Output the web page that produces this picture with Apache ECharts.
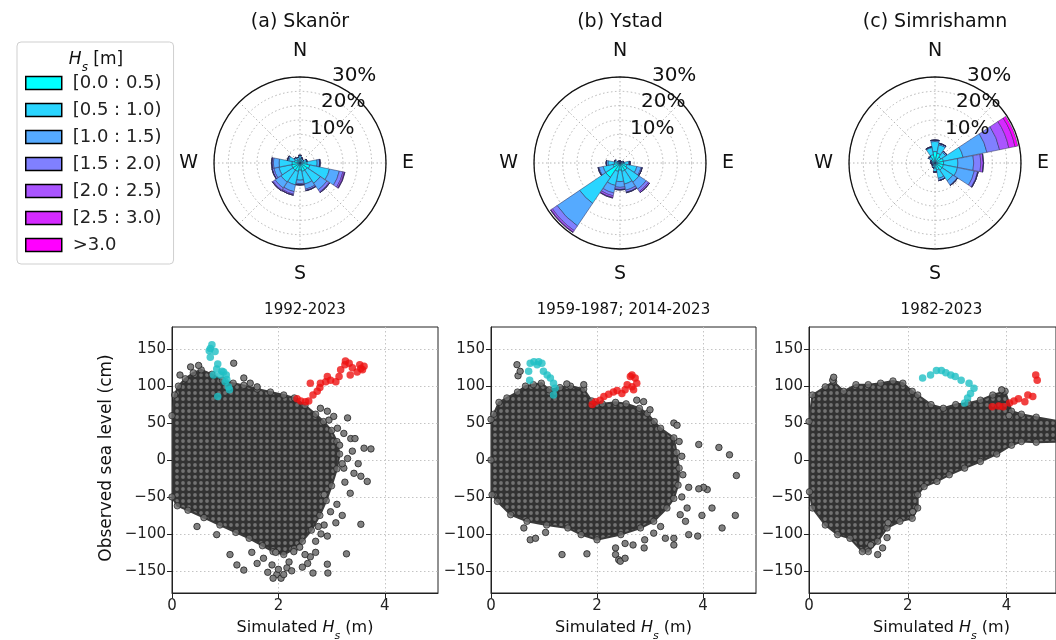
<!DOCTYPE html>
<html><head><meta charset="utf-8">
<script src="https://cdn.jsdelivr.net/npm/echarts@6/dist/echarts.min.js"></script>
<style>html,body{margin:0;padding:0;background:#fff}#c{width:1056px;height:640px}</style>
</head><body><div id="c"></div><script>
// ---------- DATA ----------
const directions = ['N','NNE','NE','ENE','E','ESE','SE','SSE','S','SSW','SW','WSW','W','WNW','NW','NNW'];
const hsBins = ['[0.0 : 0.5)','[0.5 : 1.0)','[1.0 : 1.5)','[1.5 : 2.0)','[2.0 : 2.5)','[2.5 : 3.0)','>3.0'];
const roseRingLabels = [10, 20, 30];
const stationTitles = ['(a) Skanör', '(b) Ystad', '(c) Simrishamn'];
const periodTitles = ['1992-2023', '1959-1987; 2014-2023', '1982-2023'];
// wave-rose frequencies (%) : one row per Hs bin, 16 directions N..NNW
const skanorRose = [
  [1.5,1.2,1.0,1.3,2.5,3.5,3.0,3.0,2.5,3.0,3.0,3.0,2.8,2.0,1.3,1.2],
  [1.0,0.6,0.5,1.0,3.5,7.0,5.5,4.5,3.5,4.8,5.0,4.5,4.5,2.0,1.0,0.8],
  [0.2,0.1,0,0.2,0.8,3.5,2.8,1.8,1.2,2.4,2.5,1.8,2.0,0.5,0.2,0.1],
  [0,0,0,0,0.2,1.3,0.9,0.5,0.4,0.9,0.9,0.6,0.5,0,0,0],
  [0,0,0,0,0,0.5,0.3,0.1,0.1,0.4,0.3,0.1,0.1,0,0,0],
  [0,0,0,0,0,0.2,0,0,0,0,0,0,0,0,0,0],
  [0,0,0,0,0,0,0,0,0,0,0,0,0,0,0,0]
];
const ystadRose = [
  [0.6,0.5,0.5,0.8,1.5,2.5,3.0,3.0,2.5,3.0,6.0,2.5,2.0,1.0,0.6,0.5],
  [0.2,0.2,0.2,0.4,1.5,3.5,5.0,4.5,4.0,5.0,11.0,3.5,2.2,0.8,0.3,0.2],
  [0,0,0,0.1,0.5,1.5,3.0,2.2,2.0,2.7,9.5,1.5,0.6,0.2,0,0],
  [0,0,0,0,0,0.4,1.0,0.7,0.7,1.0,2.0,0.3,0,0,0,0],
  [0,0,0,0,0,0,0.5,0.2,0.2,0.6,0.6,0,0,0,0,0],
  [0,0,0,0,0,0,0,0,0,0.2,0.2,0,0,0,0,0],
  [0,0,0,0,0,0,0,0,0,0,0,0,0,0,0,0]
];
const simrishamnRose = [
  [4.0,3.5,2.5,3.0,3.0,3.0,3.0,2.5,1.8,1.2,0.9,0.8,0.9,1.0,1.6,3.0],
  [3.5,3.0,2.0,7.0,5.0,5.0,4.5,3.0,1.2,0.6,0.4,0.4,0.5,0.5,1.0,2.5],
  [0.5,0.5,0.5,8.5,5.5,6.0,1.8,0.8,0.2,0,0,0,0,0.1,0.2,0.3],
  [0,0,0,4.5,2.5,1.2,0.2,0,0,0,0,0,0,0,0,0],
  [0,0,0,3.3,0.9,0.2,0,0,0,0,0,0,0,0,0,0],
  [0,0,0,2.2,0,0,0,0,0,0,0,0,0,0,0,0],
  [0,0,0,1.0,0,0,0,0,0,0,0,0,0,0,0,0]
];
const xTicks = [0, 2, 4];
const yTicks = [-150, -100, -50, 0, 50, 100, 150];
// dense core of the scatter clouds (outline, [Hs m, sea level cm])
const skanorCloud = [[0,60],[0.05,88],[0.12,100],[0.25,110],[0.4,118],[0.55,122],[0.75,116],[0.95,108],[1.15,104],[1.35,101],[1.6,96],[1.85,92],[2.1,88],[2.3,84],[2.5,74],[2.7,62],[2.85,52],[3.0,40],[3.1,25],[3.15,8],[3.1,-12],[3.0,-35],[2.9,-55],[2.78,-75],[2.62,-95],[2.45,-110],[2.3,-120],[2.1,-128],[1.9,-124],[1.7,-116],[1.45,-106],[1.2,-98],[0.9,-88],[0.6,-78],[0.3,-68],[0.1,-62],[0,-50]];
const ystadCloud = [[0,55],[0.05,62],[0.15,78],[0.3,84],[0.5,92],[0.65,100],[0.8,102],[0.95,104],[1.1,95],[1.3,98],[1.5,100],[1.75,96],[1.9,80],[2.1,76],[2.35,78],[2.55,76],[2.8,70],[2.95,63],[3.08,52],[3.2,43],[3.45,30],[3.5,10],[3.55,-11],[3.53,-34],[3.45,-52],[3.32,-65],[3.07,-83],[2.82,-92],[2.45,-101],[2.0,-108],[1.7,-101],[1.45,-92],[1.05,-88],[0.68,-83],[0.37,-74],[0.12,-56],[0.02,-47],[0,0]];
const simrishamnCloud = [[0,52],[0.07,88],[0.33,99],[0.5,106],[0.7,93],[0.95,102],[1.2,102],[1.45,104],[1.7,107],[1.9,104],[2.09,93],[2.2,88],[2.47,75],[2.72,70],[2.97,75],[3.22,77],[3.47,81],[3.72,88],[3.97,93],[4.1,66],[4.3,62],[4.6,58],[5.1,52],[5.1,25],[4.6,24],[4.3,25],[4.1,20],[3.8,8],[3.47,-2],[3.15,-11],[2.84,-20],[2.59,-29],[2.33,-36],[2.2,-47],[2.2,-65],[2.09,-79],[1.84,-83],[1.58,-92],[1.39,-110],[1.2,-124],[1.08,-124],[0.83,-106],[0.58,-101],[0.33,-88],[0.07,-65],[0.01,-43]];
// scattered points outside the dense core
const skanorPoints = [[3.30,57],[3.23,36],[3.36,29],[3.44,29],[3.61,16],[3.74,15],[3.39,12],[3.67,-29],[3.55,-22],[3.42,-18],[3.23,-11],[3.55,-87],[3.28,-127],[2.92,-141],[2.92,-103],[3.08,-85],[2.86,-88],[2.65,-153],[2.93,-153],[2.98,-70],[2.86,-47],[2.60,-131],[2.29,-124],[1.97,-155],[1.88,-142],[2.16,-146],[1.72,-133],[1.35,-149],[1.22,-142],[1.09,-128],[0.84,-101],[0.47,-90],[2.79,70],[2.92,66],[2.95,54],[3.11,43],[3.04,59],[1.16,131],[1.35,111],[1.47,104],[1.60,99],[0.15,115],[0.35,126],[0.5,128],[2.0,-148],[2.05,-160],[1.8,-152],[2.2,-138],[2.4,-118],[2.5,-128],[1.6,-140],[1.5,-125],[1.95,-125],[2.7,-110],[2.55,-140],[2.1,-155],[1.9,-160],[2.25,-150],[2.45,-145],[3.2,-5],[3.3,2],[3.5,-5],[3.15,20],[3.25,-30],[3.35,-45],[3.1,-60],[3.2,-75],[2.8,-100],[2.7,-125],[2.75,-90]];
const ystadPoints = [[3.92,21],[4.30,17],[4.50,7],[4.63,-21],[4.61,-75],[4.36,-92],[3.98,-75],[4.08,-40],[4.01,-37],[3.92,-39],[4.17,-65],[3.73,-37],[3.70,-65],[3.73,-101],[3.90,-103],[3.45,-106],[3.45,-115],[3.29,-106],[3.57,-74],[3.67,-83],[3.45,50],[3.51,47],[3.0,68],[2.88,79],[2.75,81],[2.89,-119],[2.68,-115],[2.53,-113],[2.35,-119],[2.35,-128],[2.41,-135],[2.44,-137],[2.53,-133],[1.81,-127],[1.34,-128],[0.74,-108],[0.84,-106],[1.03,-98],[0.62,-92],[3.07,-99],[1.75,102],[1.43,103],[0.51,114],[0.49,129],[0.55,120],[2.9,-108],[3.2,-90],[3.6,-50],[3.62,-20],[3.6,5],[3.55,25]];
const simrishamnPoints = [[1.39,-128],[1.49,-119],[1.58,-105],[1.25,-115],[0.48,108],[0.5,112],[1.6,-85],[2.1,-70],[4.05,60],[3.9,95]];
// storm events
const skanorJan2017 = [[0.75,156],[0.72,151],[0.70,148],[0.81,147],[0.72,139],[0.86,130],[0.84,123],[0.94,120],[0.78,115],[0.91,115],[0.97,119],[1.02,115],[1.03,109],[1.00,106],[1.06,99],[1.08,95],[0.86,86]];
const skanorBabet = [[2.35,83],[2.42,80],[2.51,79],[2.57,80],[2.60,104],[2.65,88],[2.73,93],[2.78,98],[2.79,104],[2.89,106],[2.92,113],[2.98,108],[3.08,106],[3.14,113],[3.17,122],[3.25,129],[3.26,134],[3.33,131],[3.39,125],[3.35,115],[3.48,119],[3.55,124],[3.53,129],[3.61,127],[3.58,122]];
const ystadJan2017 = [[0.73,108],[0.71,120],[0.74,131],[0.81,133],[0.87,129],[0.90,133],[0.96,131],[0.99,120],[1.06,115],[1.12,111],[1.18,104],[1.21,97],[1.18,88]];
const ystadBabet = [[1.91,75],[1.97,79],[2.06,81],[2.13,86],[2.22,89],[2.31,92],[2.38,94],[2.47,90],[2.53,95],[2.57,102],[2.66,99],[2.63,113],[2.66,115],[2.72,111],[2.75,104],[2.69,95]];
const simrishamnJan2017 = [[2.30,111],[2.46,115],[2.58,121],[2.68,121],[2.77,118],[2.87,115],[2.96,113],[3.08,108],[3.24,104],[3.34,97],[3.27,90],[3.21,84],[3.15,77]];
const simrishamnBabet = [[3.71,72],[3.84,73],[3.93,72],[4.06,77],[4.15,80],[4.24,83],[4.37,79],[4.43,88],[4.53,86],[4.59,115],[4.62,108]];
// event annotations [x, y, text]
const annotations = [
  [[1.74,164,'Jan-2017'],[3.99,96,'Babet']],
  [[1.94,146,'Jan-2017'],[3.51,113,'Babet']],
  [[2.54,142,'Jan-2017'],[4.20,133,'Babet']]
];

// ---------- LAYOUT / STYLE ----------
const FONT = 'DejaVu Sans';
const binColors = ['#00ffff','#2ad5ff','#55aaff','#8080ff','#aa55ff','#d52aff','#ff00ff'];
const roseCenters = [[300,163],[620,163],[935,163]];
const roseR = 86;
const grids = [{left:172,top:327,width:266,height:266},{left:491,top:327,width:265,height:266},{left:809,top:327,width:265,height:266}];
const CYAN = '#1fbfc4', RED = '#ee1111';
const roses = [skanorRose, ystadRose, simrishamnRose];
const clouds = [skanorCloud, ystadCloud, simrishamnCloud];
const pointsets = [skanorPoints, ystadPoints, simrishamnPoints];
const jans = [skanorJan2017, ystadJan2017, simrishamnJan2017];
const babets = [skanorBabet, ystadBabet, simrishamnBabet];

// dot texture for dense cloud
const tile = document.createElement('canvas'); tile.width = 6; tile.height = 6;
(function(){const g = tile.getContext('2d'); g.fillStyle = '#323232'; g.fillRect(0,0,6,6);
  g.beginPath(); g.arc(3,3,1.9,0,Math.PI*2); g.fillStyle = '#727272'; g.fill();})();
const cloudFill = {type:'pattern', image: tile, repeat: 'repeat'};

const polar = [], angleAxis = [], radiusAxis = [], series = [], graphic = [];
roseCenters.forEach((c, i) => {
  polar.push({center: c, radius: roseR});
  angleAxis.push({polarIndex:i, type:'category', data:directions, startAngle:101.25, clockwise:true, boundaryGap:true,
    axisLine:{show:false}, axisTick:{show:false}, axisLabel:{show:false}, splitLine:{show:false}, z:1});
  radiusAxis.push({polarIndex:i, type:'value', min:0, max:30, show:false, splitLine:{show:false}});
});
const compass = {0:'N',90:'E',180:'S',270:'W'};
roseCenters.forEach((c, i) => {
  polar.push({center: c, radius: roseR});
  angleAxis.push({polarIndex:i+3, type:'value', min:0, max:360, interval:45, startAngle:90, clockwise:true,
    axisLine:{show:true, lineStyle:{color:'#111', width:1.3}}, axisTick:{show:false},
    axisLabel:{show:true, margin:16, fontSize:19, fontFamily:FONT, color:'#111', formatter: v => compass[v] || ''},
    splitLine:{show:true, lineStyle:{color:'#b5b5b5', type:[1.5,2.5], width:1}}, z:0});
  radiusAxis.push({polarIndex:i+3, type:'value', min:0, max:30, interval:5,
    axisLine:{show:false}, axisTick:{show:false}, axisLabel:{show:false},
    splitLine:{show:true, lineStyle:{color:'#b5b5b5', type:[1.5,2.5], width:1}}, z:0});
});
roses.forEach((rose, i) => {
  rose.forEach((vals, b) => {
    series.push({type:'bar', name:hsBins[b], coordinateSystem:'polar', polarIndex:i, stack:'rose'+i,
      data: vals, barCategoryGap:'3%', itemStyle:{color:binColors[b], borderColor:'#2b2b55', borderWidth:0.5},
      emphasis:{disabled:true}, z:2});
  });
  const [cx, cy] = roseCenters[i];
  const ang = 22.5 * Math.PI / 180;
  roseRingLabels.forEach(v => {
    const r = v / 30 * roseR;
    graphic.push({type:'text', x: cx + r*Math.sin(ang) - 1, y: cy - r*Math.cos(ang) + 2, z:10,
      style:{text: v + '%', font: '20px ' + FONT, fill:'#111', align:'left', verticalAlign:'bottom'}});
  });
  graphic.push({type:'text', x: cx, y: 22, style:{text: stationTitles[i], font:'19px ' + FONT, fill:'#111', align:'center', verticalAlign:'middle'}});
});

const xAxis = [], yAxis = [];
const subRich = (size) => ({n:{font:size + 'px ' + FONT, fill:'#111', lineHeight:24}, i:{font:'italic ' + size + 'px ' + FONT, fill:'#111', lineHeight:24},
  s:{font:'italic ' + (size - 5) + 'px ' + FONT, fill:'#111', lineHeight:27, verticalAlign:'bottom'}});
grids.forEach((g, i) => {
  g.show = true; g.borderColor = '#222'; g.borderWidth = 1; g.backgroundColor = 'transparent';
  xAxis.push({gridIndex:i, type:'value', min:0, max:5, interval:2,
    axisLine:{show:true, onZero:false, lineStyle:{color:'#222'}},
    axisTick:{show:true, length:5, customValues:xTicks, lineStyle:{color:'#222'}},
    axisLabel:{customValues:xTicks, fontSize:15, fontFamily:FONT, color:'#222', margin:6},
    splitLine:{show:true, lineStyle:{color:'#c4c4c4', type:[1.5,2.5]}}});
  yAxis.push({gridIndex:i, type:'value', min:-180, max:180, splitNumber:7,
    axisLine:{show:true, onZero:false, lineStyle:{color:'#222'}},
    axisTick:{show:true, length:5, customValues:yTicks, lineStyle:{color:'#222'}},
    axisLabel:{customValues:yTicks, fontSize:15, fontFamily:FONT, color:'#222', margin:6,
      formatter: v => v < 0 ? '\u2212' + Math.abs(v) : String(v)},
    splitLine:{show:true, lineStyle:{color:'#c4c4c4', type:[1.5,2.5]}}});
  const outline = clouds[i];
  series.push({type:'custom', xAxisIndex:i, yAxisIndex:i, clip:true, silent:true, z:1, data: outline,
    renderItem: (params, api) => {
      if (params.dataIndex !== 0) return null;
      return {type:'polygon', shape:{points: outline.map(p => api.coord(p)), smooth:0},
        style:{fill: cloudFill, stroke:'#3a3a3a', lineWidth:2}};
    }});
  series.push({type:'scatter', xAxisIndex:i, yAxisIndex:i, data: outline, symbolSize:6.5, silent:true, z:2,
    itemStyle:{color:'#6e6e6e', borderColor:'#1c1c1c', borderWidth:0.8}});
  series.push({type:'scatter', xAxisIndex:i, yAxisIndex:i, data: pointsets[i], symbolSize:6.5, silent:true, z:2,
    itemStyle:{color:'#7a7a7a', borderColor:'#1c1c1c', borderWidth:0.8, opacity:0.95}});
  series.push({type:'scatter', xAxisIndex:i, yAxisIndex:i, data: jans[i], symbolSize:7.5, silent:true, z:3,
    itemStyle:{color:CYAN}});
  series.push({type:'scatter', xAxisIndex:i, yAxisIndex:i, data: babets[i], symbolSize:7.5, silent:true, z:3,
    itemStyle:{color:RED}});
  series.push({type:'scatter', xAxisIndex:i, yAxisIndex:i, symbolSize:0, silent:true, z:4,
    data: annotations[i].map(a => ({value:[a[0], a[1]], name:a[2]})),
    label:{show:true, position:'inside', formatter:'{b}', fontSize:16, fontFamily:FONT,
      color: p => p.name === 'Babet' ? RED : CYAN}});
  const cx = g.left + g.width / 2;
  graphic.push({type:'text', x: cx, y: 310, style:{text: periodTitles[i], font:'15px ' + FONT, fill:'#111', align:'center', verticalAlign:'middle'}});
  graphic.push({type:'text', x: cx, y: 628, style:{text:'{n|Simulated }{i|H}{s|s}{n| (m)}', align:'center', verticalAlign:'middle', rich: subRich(16)}});
});
graphic.push({type:'text', x:107, y:458, rotation: Math.PI/2,
  style:{text:'Observed sea level (cm)', font:'17px ' + FONT, fill:'#111', align:'center', verticalAlign:'middle'}});
graphic.push({type:'text', x:96, y:60, style:{text:'{i|H}{s|s}{n| [m]}', align:'center', verticalAlign:'middle', rich: subRich(17)}});

const chart = echarts.init(document.getElementById('c'), null, {renderer:'canvas'});
chart.setOption({
  animation:false, backgroundColor:'#fff',
  legend:{data: hsBins, orient:'vertical', left:17, top:42, padding:[32,12,10,8], itemWidth:36, itemHeight:13, itemGap:9,
    icon:'rect', selectedMode:false, borderColor:'#cfcfcf', borderWidth:1, borderRadius:4,
    itemStyle:{borderColor:'#000', borderWidth:1.5},
    textStyle:{fontSize:18, fontFamily:FONT, color:'#222', padding:[0,0,0,6]}},
  polar, angleAxis, radiusAxis, grid: grids, xAxis, yAxis, series, graphic
});
</script></body></html>
